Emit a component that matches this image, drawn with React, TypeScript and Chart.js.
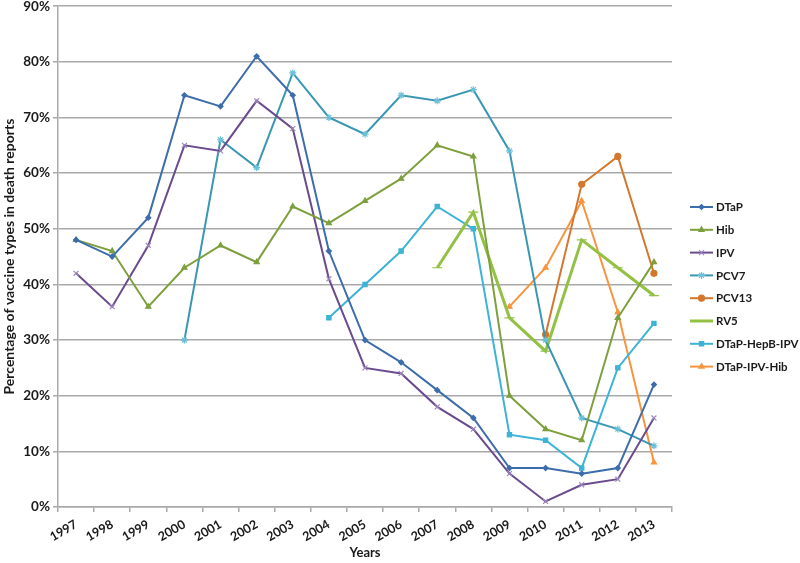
import React, { useEffect, useRef } from "react";
import { Chart, registerables } from "chart.js";
import { drawPoint } from "chart.js/helpers";

Chart.register(...registerables);

const years = ["1997","1998","1999","2000","2001","2002","2003","2004","2005","2006","2007","2008","2009","2010","2011","2012","2013"];
const yTicks = [0, 10, 20, 30, 40, 50, 60, 70, 80, 90];

const dtap = [48,45,52,74,72,81,74,46,30,26,21,16,7,7,6,7,22];
const hib = [48,46,36,43,47,44,54,51,55,59,65,63,20,14,12,34,44];
const ipv = [42,36,47,65,64,73,68,41,25,24,18,14,6,1,4,5,16];
const pcv7 = [null,null,null,30,66,61,78,70,67,74,73,75,64,30,16,14,11];
const pcv13 = [null,null,null,null,null,null,null,null,null,null,null,null,null,31,58,63,42];
const rv5 = [null,null,null,null,null,null,null,null,null,null,43,53,34,28,48,43,38];
const dtapHepbIpv = [null,null,null,null,null,null,null,34,40,46,54,50,13,12,7,25,33];
const dtapIpvHib = [null,null,null,null,null,null,null,null,null,null,null,null,36,43,55,35,8];

const seriesNames = ["DTaP","Hib","IPV","PCV7","PCV13","RV5","DTaP-HepB-IPV","DTaP-IPV-Hib"];

const FONT = "Lato, 'Open Sans', sans-serif";

export default function App() {
  const ref = useRef<HTMLCanvasElement>(null);

  useEffect(() => {
    if (!ref.current) return;
    const mk = (label, data, color, style, radius, width, markerColor?) => ({
      label,
      data,
      borderColor: color,
      backgroundColor: markerColor || color,
      pointBorderColor: markerColor || color,
      pointBackgroundColor: markerColor || color,
      pointStyle: style,
      pointRadius: radius,
      pointBorderWidth: 1.2,
      borderWidth: width,
      tension: 0,
      spanGaps: false,
    });
    const datasets = [
      mk(seriesNames[0], dtap, "#3d6dab", "rectRot", 2.5, 2),
      mk(seriesNames[1], hib, "#7d9f3c", "triangle", 3, 2),
      mk(seriesNames[2], ipv, "#6a4b8e", "crossRot", 3.5, 2, "#9b86bd"),
      mk(seriesNames[3], pcv7, "#3997b3", "star", 3.5, 2, "#6bbfd6"),
      mk(seriesNames[4], pcv13, "#d4772e", "circle", 3, 2),
      mk(seriesNames[5], rv5, "#92c143", "line", 5, 3),
      mk(seriesNames[6], dtapHepbIpv, "#3db3d7", "rect", 3, 2),
      mk(seriesNames[7], dtapIpvHib, "#f7953f", "triangle", 3, 2),
    ];

    const legendPlugin = {
      id: "customLegend",
      afterDraw(chart) {
        const ctx = chart.ctx;
        ctx.save();
        const x0 = 690, x1 = 713, tx = 716;
        const y0 = 207, dy = 22.8;
        chart.data.datasets.forEach((ds, i) => {
          const y = y0 + i * dy;
          ctx.strokeStyle = ds.borderColor;
          ctx.lineWidth = ds.borderWidth;
          ctx.beginPath();
          ctx.moveTo(x0, y);
          ctx.lineTo(x1, y);
          ctx.stroke();
          if (ds.pointStyle !== "line") {
            ctx.fillStyle = ds.pointBackgroundColor;
            ctx.strokeStyle = ds.pointBorderColor;
            ctx.lineWidth = 1.2;
            drawPoint(ctx, { pointStyle: ds.pointStyle, radius: ds.pointRadius, rotation: 0, borderWidth: 1.2 }, (x0 + x1) / 2, y);
          }
          ctx.fillStyle = "#1a1a1a";
          ctx.font = `bold 11.5px ${FONT}`;
          ctx.textBaseline = "middle";
          ctx.textAlign = "left";
          ctx.fillText(ds.label, tx, y + 0.5);
        });
        ctx.restore();
      },
    };

    const chart = new Chart(ref.current, {
      type: "line",
      data: { labels: years, datasets },
      options: {
        responsive: false,
        animation: false,
        devicePixelRatio: 1,
        layout: { padding: { left: 0, right: 128, top: 6, bottom: 0 } },
        plugins: {
          legend: { display: false },
          tooltip: { enabled: false },
        },
        scales: {
          x: {
            offset: true,
            grid: {
              offset: true,
              drawOnChartArea: false,
              drawTicks: true,
              tickLength: 5,
              color: "#a9a9a9",
              lineWidth: 1.5,
            },
            border: { color: "#a9a9a9", width: 1.5 },
            ticks: {
              color: "#1a1a1a",
              font: { family: FONT, size: 12.5, weight: "bold" },
              maxRotation: 30,
              minRotation: 30,
              autoSkip: false,
              padding: 5,
            },
            title: {
              display: true,
              text: "Years",
              color: "#1a1a1a",
              font: { family: FONT, size: 13, weight: "bold" },
              padding: { top: 0, bottom: 2 },
            },
            afterFit: (s) => { s.height = 56; },
          },
          y: {
            min: 0,
            max: 90,
            afterBuildTicks: (s) => { s.ticks = yTicks.map((v) => ({ value: v })); },
            grid: {
              color: "#a9a9a9",
              lineWidth: 1.5,
              drawTicks: true,
              tickLength: 5,
            },
            border: { color: "#a9a9a9", width: 1.5 },
            ticks: {
              color: "#1a1a1a",
              font: { family: FONT, size: 13.5, weight: "bold" },
              callback: (v) => v + "%",
              padding: 3,
            },
            title: {
              display: true,
              text: "Percentage of vaccine types in death reports",
              color: "#1a1a1a",
              font: { family: FONT, size: 14, weight: "bold" },
              padding: { top: 1, bottom: 0 },
            },
            afterFit: (s) => { s.width = 58; s.paddingTop = 0; s.paddingBottom = 0; },
          },
        },
      },
      plugins: [legendPlugin],
    });
    return () => chart.destroy();
  }, []);

  return (
    <div style={{ position: "fixed", left: 0, top: 0, width: 800, height: 563, background: "#fff" }}>
      <canvas ref={ref} width={800} height={563} />
    </div>
  );
}
